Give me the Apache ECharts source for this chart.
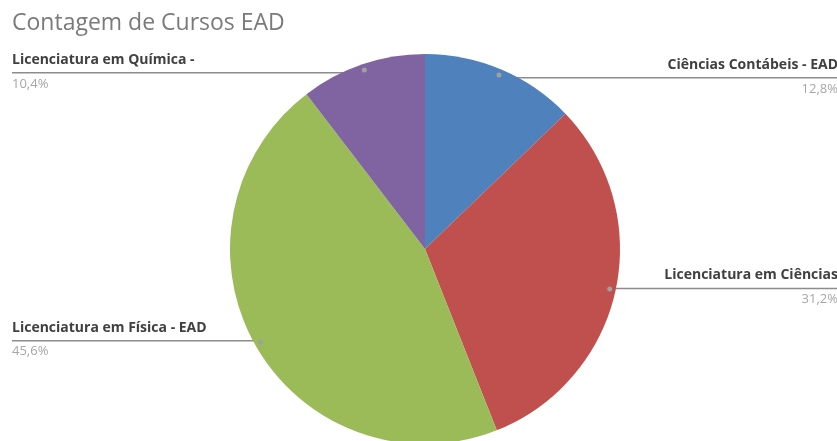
<!DOCTYPE html>
<html>
<head>
<meta charset="utf-8">
<script src="https://cdn.jsdelivr.net/npm/echarts@6/dist/echarts.min.js"></script>
<style>
html,body{margin:0;padding:0;background:#fff;}
#chart{width:837px;height:441px;}
</style>
</head>
<body>
<div id="chart"></div>
<script>
const categories = ['Ciências Contábeis - EAD', 'Licenciatura em Ciências', 'Licenciatura em Física - EAD', 'Licenciatura em Química -'];
const percents = [12.8, 31.2, 45.6, 10.4];
const percentLabels = ['12,8%', '31,2%', '45,6%', '10,4%'];
const colors = ['#4f81bd', '#c0504d', '#9bbb59', '#8064a2'];

const CX = 425, CY = 249, R = 195;
const DOT_RATIO = 186 / 195;

const chart = echarts.init(document.getElementById('chart'), null, { renderer: 'canvas' });

const pieData = categories.map((c, i) => ({ name: c, value: percents[i], itemStyle: { color: colors[i] } }));

const option = {
  animation: false,
  title: {
    text: 'Contagem de Cursos EAD',
    left: 12, top: 11, padding: 0,
    textStyle: { fontFamily: 'Open Sans', fontSize: 23, fontWeight: 'normal', color: '#7a7a7a', lineHeight: 24 }
  },
  series: [
    {
      type: 'pie',
      center: [CX, CY],
      radius: R,
      startAngle: 90,
      clockwise: true,
      silent: true,
      avoidLabelOverlap: false,
      data: pieData,
      label: {
        show: true,
        position: 'outside',
        formatter: p => '{n|' + p.name + '}\n{p|' + percentLabels[p.dataIndex] + '}',
        rich: {
          n: { fontFamily: 'Open Sans', fontWeight: 'bold', fontSize: 14, color: '#404040', lineHeight: 26 },
          p: { fontFamily: 'Open Sans', fontSize: 13, color: '#a6a6a6', lineHeight: 22 }
        }
      },
      labelLine: { show: true, smooth: false, length: 10, length2: 10, lineStyle: { color: '#8c8c8c', width: 1.5 } },
      labelLayout: function (params) {
        let p0;
        if (params.labelLinePoints && params.labelLinePoints[0]) {
          p0 = params.labelLinePoints[0];
        } else {
          const total = percents.reduce((a, b) => a + b, 0);
          let cum = 0;
          for (let i = 0; i < params.dataIndex; i++) cum += percents[i];
          const ang = (cum + percents[params.dataIndex] / 2) / total * 2 * Math.PI;
          p0 = [CX + R * Math.sin(ang), CY - R * Math.cos(ang)];
        }
        const dx = CX + (p0[0] - CX) * DOT_RATIO;
        const dy = CY + (p0[1] - CY) * DOT_RATIO;
        const left = p0[0] < CX;
        const ex = left ? 12 : 838;
        return {
          x: ex,
          y: dy - 26,
          align: left ? 'left' : 'right',
          verticalAlign: 'top',
          labelLinePoints: [[dx, dy], [(dx + ex) / 2, dy], [ex, dy]]
        };
      }
    },
    {
      type: 'pie',
      center: [CX, CY],
      radius: [177, R],
      startAngle: 90,
      clockwise: true,
      silent: true,
      data: categories.map((c, i) => ({ name: c, value: percents[i] })),
      itemStyle: { color: 'rgba(0,0,0,0)', borderWidth: 0 },
      label: {
        show: true,
        position: 'inside',
        formatter: '{d|}',
        rich: { d: { width: 5, height: 5, borderRadius: 3, backgroundColor: '#a0a0a0' } }
      },
      labelLine: { show: false }
    }
  ]
};
chart.setOption(option);
</script>
</body>
</html>
